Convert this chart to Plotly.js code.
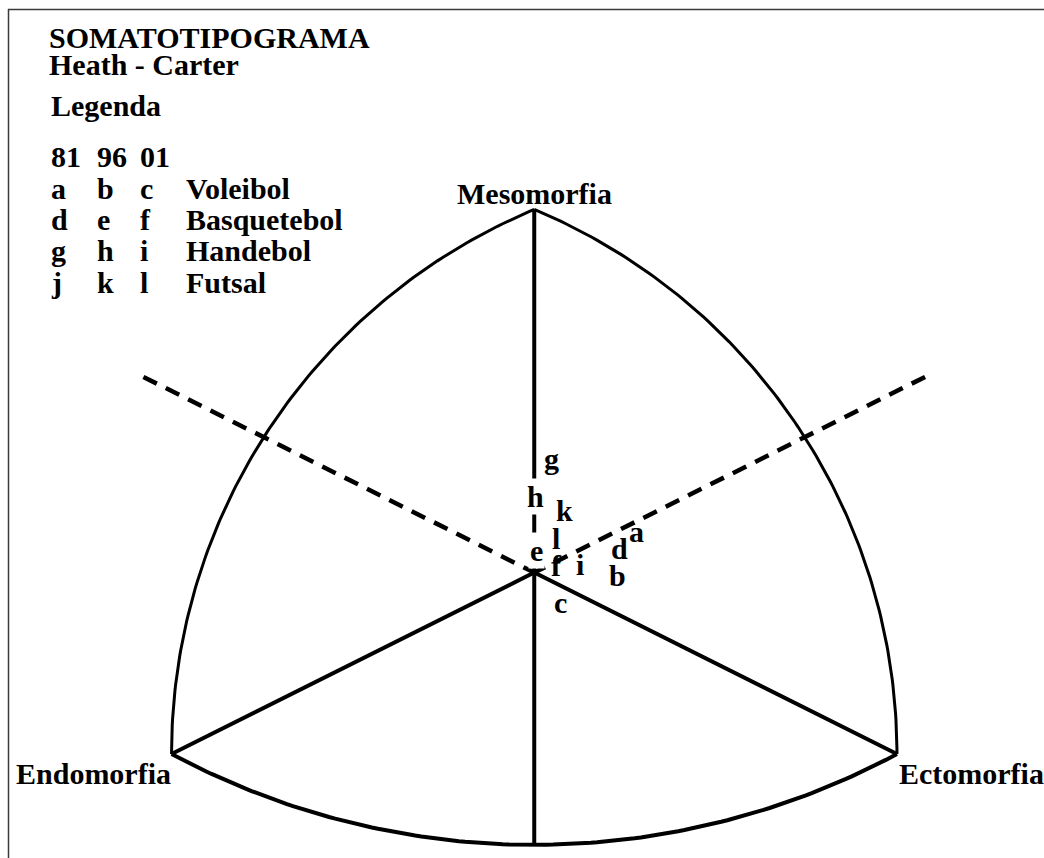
<!DOCTYPE html>
<html>
<head>
<meta charset="utf-8">
<script src="https://cdn.plot.ly/plotly-3.0.1.min.js"></script>
<style>
  html, body { margin: 0; padding: 0; background: #fff; }
  #chart { width: 1044px; height: 858px; }
</style>
</head>
<body>
<div id="chart"></div>
<script>
// Somatotype points: X = ecto - endo, Y = 2*meso - endo - ecto
const pointLabels = ['a', 'b', 'c', 'd', 'e', 'f', 'g', 'h', 'i', 'k', 'l'];
const pointX = [2.26, 1.83, 0.58, 1.89, 0.05, 0.50, 0.38, 0.02, 1.02, 0.66, 0.47];
const pointY = [1.83, -0.15, -1.34, 1.08, 0.99, 0.33, 5.02, 3.37, 0.37, 2.72, 1.48];

// Legend content
const years = ['81', '96', '01'];
const sports = ['Voleibol', 'Basquetebol', 'Handebol', 'Futsal'];
const sportLetters = [['a', 'b', 'c'], ['d', 'e', 'f'], ['g', 'h', 'i'], ['j', 'k', 'l']];
const axisNames = ['Mesomorfia', 'Endomorfia', 'Ectomorfia'];

// Somatochart frame vertices (X, Y)
const MESO = [0, 16], ENDO = [-8, -8], ECTO = [8, -8], BOTTOM = [0, -12];

const W = 1044, H = 858;
const FONT = 'Liberation Serif, Times New Roman, serif';

// Arc in the isotropic frame (u = X, v = Y / 2), returned in X/Y
function arc(cu, cv, from, to, n) {
  const a0 = Math.atan2(from[1] / 2 - cv, from[0] - cu);
  const a1 = Math.atan2(to[1] / 2 - cv, to[0] - cu);
  const r = Math.hypot(from[0] - cu, from[1] / 2 - cv);
  const xs = [], ys = [];
  for (let i = 0; i <= n; i++) {
    const a = a0 + (a1 - a0) * i / n;
    xs.push(cu + r * Math.cos(a));
    ys.push(2 * (cv + r * Math.sin(a)));
  }
  return { x: xs, y: ys };
}

const leftArc = arc(5, -4, ENDO, MESO, 120);
const rightArc = arc(-5, -4, MESO, ECTO, 120);
const bottomArc = arc(0, 11, ENDO, ECTO, 120);

function line(x, y, width, dash) {
  return {
    type: 'scatter', mode: 'lines', x: x, y: y, hoverinfo: 'skip',
    line: { color: '#000', width: width, dash: dash || 'solid' }
  };
}

const dashEnd = 8.62;
const traces = [
  line(leftArc.x, leftArc.y, 3),
  line(rightArc.x, rightArc.y, 3),
  line(bottomArc.x, bottomArc.y, 4),
  line([MESO[0], BOTTOM[0]], [MESO[1], BOTTOM[1]], 4),
  line([ENDO[0], 0, ECTO[0]], [ENDO[1], 0, ECTO[1]], 4),
  line([-dashEnd, 0], [dashEnd, 0], 4.5, '15px,10px'),
  line([dashEnd, 0], [dashEnd, 0], 4.5, '15px,10px'),
  {
    type: 'scatter', mode: 'markers', x: pointX, y: pointY, text: pointLabels,
    marker: { size: 1, color: 'rgba(0,0,0,0)' }, hoverinfo: 'text'
  }
];

const txtFont = { family: FONT, size: 30, color: '#000' };
const annotations = [];

// Point labels, drawn on the data axes; e and h sit on the vertical axis line
const masked = { e: true, h: true };
pointLabels.forEach((lab, i) => {
  annotations.push({
    x: pointX[i], y: pointY[i], xref: 'x', yref: 'y', text: '<b>' + lab + '</b>',
    showarrow: false, xanchor: 'center', yanchor: 'middle', font: txtFont,
    bgcolor: masked[lab] ? '#fff' : 'rgba(0,0,0,0)', borderpad: 1
  });
});

function paperText(text, px, py, anchor) {
  annotations.push({
    x: px / W, y: 1 - py / H, xref: 'paper', yref: 'paper', text: '<b>' + text + '</b>',
    showarrow: false, xanchor: anchor || 'left', yanchor: 'middle', font: txtFont
  });
}

paperText('SOMATOTIPOGRAMA', 47, 38);
paperText('Heath - Carter', 47, 64);
paperText('Legenda', 49, 105);

const colX = [49, 95, 138], nameX = 184;
const rowY0 = 157, rowStep = 31.3;
years.forEach((y, j) => paperText(y, colX[j], rowY0));
sports.forEach((s, r) => {
  const py = rowY0 + rowStep * (r + 1);
  sportLetters[r].forEach((l, j) => paperText(l, colX[j], py));
  paperText(s, nameX, py);
});

paperText(axisNames[0], 534, 193, 'center');
paperText(axisNames[1], 14, 773);
paperText(axisNames[2], 897, 773);

const layout = {
  width: W, height: H,
  margin: { l: 0, r: 0, t: 0, b: 0 },
  paper_bgcolor: '#fff', plot_bgcolor: '#fff',
  showlegend: false,
  xaxis: { range: [-11.783, 11.243], visible: false, fixedrange: true },
  yaxis: { range: [-12.58, 25.23], visible: false, fixedrange: true },
  annotations: annotations,
  shapes: [
    { type: 'line', xref: 'paper', yref: 'paper', x0: 8 / W, x1: 1, y0: 1 - 9.5 / H, y1: 1 - 9.5 / H,
      line: { color: '#3a3a3a', width: 1.5 } },
    { type: 'line', xref: 'paper', yref: 'paper', x0: 8.5 / W, x1: 8.5 / W, y0: 1 - 9 / H, y1: 0,
      line: { color: '#3a3a3a', width: 1.5 } }
  ]
};

Plotly.newPlot('chart', traces, layout, { displayModeBar: false, staticPlot: true });
</script>
</body>
</html>
